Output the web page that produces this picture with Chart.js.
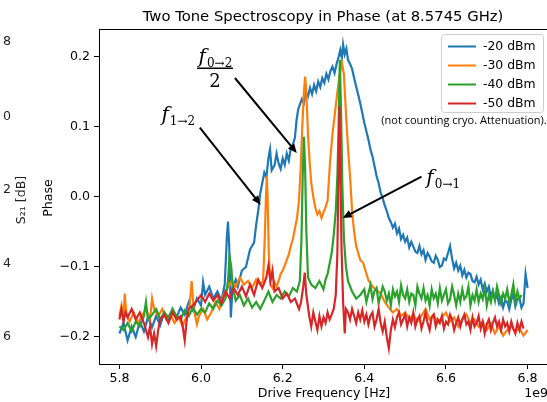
<!DOCTYPE html>
<html>
<head>
<meta charset="utf-8">
<script src="https://cdn.jsdelivr.net/npm/chart.js@4.4.0/dist/chart.umd.min.js"></script>
<style>
  body { margin: 0; background: #fff; }
  #wrap { width: 547px; height: 402px; }
</style>
</head>
<body>
<div id="wrap"><canvas id="chart" width="547" height="402"></canvas></div>
<script>
// tick labels
const xTicks = [5.8, 6.0, 6.2, 6.4, 6.6, 6.8];
const yTicks = [-0.2, -0.1, 0.0, 0.1, 0.2];
const seriesNames = ["-20 dBm", "-30 dBm", "-40 dBm", "-50 dBm"];

// -20 dBm (GHz, phase)
const freqBlue = [5.80, 5.81, 5.82, 5.83, 5.84, 5.85, 5.86, 5.87, 5.88, 5.89, 5.90, 5.91, 5.92, 5.93, 5.94, 5.95, 5.96, 5.97, 5.98, 5.99, 6.00, 6.005, 6.01, 6.02, 6.03, 6.04, 6.05, 6.058, 6.063, 6.066, 6.069, 6.073, 6.077, 6.085, 6.09, 6.10, 6.11, 6.12, 6.13, 6.135, 6.14, 6.145, 6.15, 6.155, 6.16, 6.165, 6.169, 6.173, 6.18, 6.185, 6.19, 6.195, 6.20, 6.205, 6.21, 6.215, 6.22, 6.225, 6.23, 6.234, 6.238, 6.242, 6.247, 6.252, 6.257, 6.262, 6.267, 6.272, 6.277, 6.282, 6.287, 6.292, 6.297, 6.302, 6.307, 6.312, 6.317, 6.322, 6.327, 6.332, 6.337, 6.341, 6.345, 6.348, 6.352, 6.356, 6.36, 6.365, 6.37, 6.375, 6.38, 6.385, 6.39, 6.395, 6.40, 6.405, 6.41, 6.415, 6.42, 6.425, 6.43, 6.435, 6.44, 6.445, 6.45, 6.455, 6.46, 6.465, 6.47, 6.475, 6.48, 6.485, 6.49, 6.495, 6.50, 6.505, 6.51, 6.515, 6.52, 6.525, 6.53, 6.535, 6.54, 6.545, 6.55, 6.555, 6.56, 6.565, 6.57, 6.575, 6.58, 6.585, 6.59, 6.595, 6.60, 6.605, 6.61, 6.615, 6.62, 6.625, 6.63, 6.635, 6.64, 6.645, 6.65, 6.655, 6.66, 6.665, 6.67, 6.675, 6.68, 6.685, 6.69, 6.695, 6.70, 6.705, 6.71, 6.715, 6.72, 6.725, 6.73, 6.735, 6.74, 6.745, 6.75, 6.755, 6.76, 6.765, 6.77, 6.775, 6.78, 6.785, 6.79, 6.795, 6.80];
const phaseBlue = [-0.195, -0.18, -0.205, -0.185, -0.2, -0.178, -0.192, -0.172, -0.186, -0.17, -0.183, -0.165, -0.178, -0.16, -0.172, -0.158, -0.168, -0.15, -0.162, -0.145, -0.155, -0.122, -0.14, -0.128, -0.145, -0.135, -0.148, -0.125, -0.06, -0.035, -0.07, -0.172, -0.13, -0.118, -0.128, -0.105, -0.1, -0.075, -0.065, -0.04, -0.02, 0.005, 0.02, 0.035, 0.028, 0.055, 0.068, 0.038, 0.045, 0.062, 0.048, 0.04, 0.055, 0.046, 0.062, 0.052, 0.07, 0.075, 0.085, 0.11, 0.125, 0.132, 0.14, 0.134, 0.15, 0.144, 0.156, 0.147, 0.16, 0.151, 0.165, 0.157, 0.17, 0.163, 0.176, 0.168, 0.18, 0.186, 0.177, 0.19, 0.2, 0.21, 0.198, 0.218, 0.204, 0.212, 0.196, 0.19, 0.183, 0.17, 0.158, 0.146, 0.134, 0.12, 0.106, 0.094, 0.082, 0.068, 0.058, 0.044, 0.03, 0.02, 0.006, -0.002, -0.012, -0.02, -0.03, -0.036, -0.044, -0.038, -0.052, -0.045, -0.06, -0.054, -0.064, -0.058, -0.072, -0.064, -0.071, -0.078, -0.08, -0.07, -0.082, -0.076, -0.09, -0.08, -0.085, -0.092, -0.094, -0.084, -0.09, -0.1, -0.098, -0.088, -0.09, -0.08, -0.07, -0.088, -0.102, -0.094, -0.105, -0.098, -0.112, -0.104, -0.115, -0.108, -0.11, -0.12, -0.122, -0.114, -0.125, -0.118, -0.132, -0.124, -0.135, -0.128, -0.142, -0.134, -0.146, -0.14, -0.152, -0.144, -0.158, -0.148, -0.15, -0.16, -0.147, -0.138, -0.156, -0.146, -0.145, -0.158, -0.152, -0.11, -0.13];

// -30 dBm
const freqOrange = [5.80, 5.805, 5.81, 5.813, 5.817, 5.825, 5.835, 5.845, 5.855, 5.865, 5.875, 5.88, 5.885, 5.895, 5.905, 5.915, 5.925, 5.935, 5.945, 5.955, 5.965, 5.972, 5.977, 5.982, 5.99, 5.995, 6.005, 6.015, 6.025, 6.035, 6.045, 6.055, 6.065, 6.075, 6.085, 6.095, 6.105, 6.115, 6.125, 6.135, 6.145, 6.152, 6.156, 6.159, 6.161, 6.163, 6.166, 6.17, 6.175, 6.18, 6.185, 6.19, 6.195, 6.20, 6.205, 6.21, 6.215, 6.22, 6.225, 6.23, 6.235, 6.24, 6.244, 6.248, 6.252, 6.255, 6.258, 6.262, 6.266, 6.27, 6.275, 6.28, 6.285, 6.29, 6.295, 6.30, 6.305, 6.31, 6.316, 6.322, 6.328, 6.334, 6.34, 6.345, 6.35, 6.355, 6.36, 6.365, 6.37, 6.375, 6.38, 6.39, 6.397, 6.41, 6.42, 6.43, 6.44, 6.45, 6.46, 6.47, 6.48, 6.49, 6.50, 6.51, 6.52, 6.53, 6.54, 6.55, 6.56, 6.57, 6.58, 6.59, 6.60, 6.61, 6.62, 6.63, 6.64, 6.65, 6.66, 6.67, 6.68, 6.69, 6.70, 6.71, 6.72, 6.73, 6.74, 6.75, 6.76, 6.77, 6.78, 6.79, 6.80];
const phaseOrange = [-0.17, -0.155, -0.175, -0.138, -0.165, -0.178, -0.165, -0.18, -0.17, -0.16, -0.175, -0.145, -0.16, -0.17, -0.16, -0.175, -0.168, -0.18, -0.172, -0.185, -0.17, -0.155, -0.12, -0.16, -0.182, -0.17, -0.16, -0.175, -0.165, -0.15, -0.16, -0.14, -0.13, -0.12, -0.128, -0.115, -0.125, -0.12, -0.13, -0.118, -0.125, -0.12, -0.06, 0.0, 0.03, 0.0, -0.08, -0.125, -0.13, -0.122, -0.128, -0.12, -0.11, -0.105, -0.098, -0.09, -0.082, -0.07, -0.06, -0.045, -0.03, -0.005, 0.04, 0.1, 0.15, 0.172, 0.15, 0.09, 0.05, 0.02, 0.0, -0.015, -0.025, -0.02, -0.03, -0.022, -0.015, -0.005, 0.05, 0.09, 0.12, 0.15, 0.177, 0.192, 0.175, 0.12, 0.07, 0.03, -0.02, -0.05, -0.07, -0.09, -0.094, -0.119, -0.128, -0.133, -0.138, -0.15, -0.158, -0.165, -0.16, -0.17, -0.165, -0.175, -0.168, -0.178, -0.17, -0.16, -0.175, -0.168, -0.18, -0.172, -0.165, -0.178, -0.172, -0.185, -0.175, -0.168, -0.18, -0.175, -0.185, -0.178, -0.19, -0.18, -0.195, -0.185, -0.198, -0.19, -0.185, -0.192, -0.188, -0.198, -0.19];

// -40 dBm
const freqGreen = [5.80, 5.81, 5.82, 5.83, 5.84, 5.85, 5.86, 5.865, 5.87, 5.88, 5.89, 5.90, 5.91, 5.92, 5.93, 5.94, 5.95, 5.96, 5.97, 5.98, 5.99, 6.00, 6.01, 6.02, 6.03, 6.04, 6.05, 6.06, 6.066, 6.07, 6.074, 6.078, 6.085, 6.095, 6.105, 6.115, 6.125, 6.135, 6.145, 6.155, 6.165, 6.175, 6.185, 6.195, 6.205, 6.215, 6.225, 6.235, 6.242, 6.246, 6.249, 6.252, 6.255, 6.258, 6.262, 6.27, 6.28, 6.29, 6.30, 6.305, 6.31, 6.315, 6.32, 6.325, 6.33, 6.334, 6.337, 6.34, 6.343, 6.346, 6.35, 6.355, 6.36, 6.37, 6.38, 6.39, 6.40, 6.405, 6.41, 6.415, 6.42, 6.425, 6.43, 6.435, 6.44, 6.445, 6.45, 6.455, 6.46, 6.465, 6.47, 6.475, 6.48, 6.485, 6.49, 6.495, 6.50, 6.505, 6.51, 6.515, 6.52, 6.525, 6.53, 6.535, 6.54, 6.545, 6.55, 6.555, 6.56, 6.565, 6.57, 6.575, 6.58, 6.585, 6.59, 6.595, 6.60, 6.605, 6.61, 6.615, 6.62, 6.625, 6.63, 6.635, 6.64, 6.645, 6.65, 6.655, 6.66, 6.665, 6.67, 6.675, 6.68, 6.685, 6.69, 6.695, 6.70, 6.705, 6.71, 6.715, 6.72, 6.725, 6.73, 6.735, 6.74, 6.745, 6.75, 6.755, 6.76, 6.765, 6.77, 6.775, 6.78, 6.785, 6.79, 6.795, 6.80];
const phaseGreen = [-0.185, -0.19, -0.18, -0.192, -0.178, -0.185, -0.17, -0.15, -0.175, -0.168, -0.16, -0.175, -0.165, -0.172, -0.16, -0.17, -0.175, -0.162, -0.17, -0.158, -0.168, -0.16, -0.165, -0.152, -0.16, -0.148, -0.155, -0.145, -0.12, -0.085, -0.1, -0.13, -0.148, -0.14, -0.155, -0.145, -0.158, -0.15, -0.16, -0.148, -0.135, -0.15, -0.14, -0.145, -0.135, -0.142, -0.13, -0.135, -0.12, -0.06, 0.03, 0.086, 0.04, -0.05, -0.115, -0.125, -0.13, -0.12, -0.132, -0.118, -0.11, -0.095, -0.08, -0.055, -0.02, 0.03, 0.1, 0.196, 0.12, 0.02, -0.06, -0.1, -0.12, -0.135, -0.145, -0.14, -0.132, -0.15, -0.138, -0.126, -0.146, -0.134, -0.13, -0.152, -0.14, -0.128, -0.135, -0.148, -0.138, -0.155, -0.132, -0.142, -0.135, -0.15, -0.126, -0.14, -0.145, -0.132, -0.15, -0.138, -0.14, -0.155, -0.128, -0.138, -0.145, -0.13, -0.148, -0.14, -0.155, -0.132, -0.145, -0.138, -0.152, -0.13, -0.148, -0.14, -0.132, -0.152, -0.146, -0.128, -0.14, -0.155, -0.138, -0.15, -0.132, -0.146, -0.142, -0.128, -0.155, -0.14, -0.148, -0.132, -0.15, -0.138, -0.146, -0.13, -0.155, -0.14, -0.15, -0.135, -0.148, -0.128, -0.14, -0.152, -0.138, -0.145, -0.132, -0.15, -0.14, -0.125, -0.15, -0.135, -0.145, -0.14];

// -50 dBm
const freqRed = [5.80, 5.805, 5.81, 5.815, 5.82, 5.83, 5.84, 5.85, 5.86, 5.865, 5.87, 5.875, 5.88, 5.885, 5.89, 5.895, 5.90, 5.91, 5.92, 5.93, 5.94, 5.95, 5.955, 5.96, 5.965, 5.97, 5.98, 5.99, 6.00, 6.01, 6.02, 6.03, 6.04, 6.05, 6.06, 6.07, 6.08, 6.09, 6.10, 6.11, 6.12, 6.13, 6.14, 6.15, 6.16, 6.165, 6.17, 6.175, 6.18, 6.19, 6.20, 6.21, 6.22, 6.23, 6.24, 6.245, 6.25, 6.254, 6.258, 6.265, 6.27, 6.275, 6.28, 6.285, 6.29, 6.295, 6.30, 6.305, 6.31, 6.315, 6.32, 6.325, 6.33, 6.334, 6.337, 6.339, 6.341, 6.344, 6.348, 6.352, 6.355, 6.36, 6.365, 6.37, 6.375, 6.38, 6.385, 6.39, 6.395, 6.40, 6.405, 6.41, 6.415, 6.42, 6.425, 6.43, 6.435, 6.44, 6.445, 6.45, 6.455, 6.46, 6.465, 6.47, 6.475, 6.48, 6.485, 6.49, 6.495, 6.50, 6.505, 6.51, 6.515, 6.52, 6.525, 6.53, 6.535, 6.54, 6.545, 6.55, 6.555, 6.56, 6.565, 6.57, 6.575, 6.58, 6.585, 6.59, 6.595, 6.60, 6.605, 6.61, 6.615, 6.62, 6.625, 6.63, 6.635, 6.64, 6.645, 6.65, 6.655, 6.66, 6.665, 6.67, 6.675, 6.68, 6.685, 6.69, 6.695, 6.70, 6.705, 6.71, 6.715, 6.72, 6.725, 6.73, 6.735, 6.74, 6.745, 6.75, 6.755, 6.76, 6.765, 6.77, 6.775, 6.78, 6.785, 6.79, 6.795, 6.80];
const phaseRed = [-0.175, -0.16, -0.178, -0.165, -0.172, -0.16, -0.175, -0.165, -0.18, -0.19, -0.2, -0.185, -0.21, -0.195, -0.213, -0.19, -0.175, -0.168, -0.18, -0.165, -0.175, -0.17, -0.185, -0.205, -0.175, -0.16, -0.155, -0.148, -0.14, -0.15, -0.138, -0.148, -0.14, -0.152, -0.135, -0.145, -0.13, -0.14, -0.128, -0.142, -0.125, -0.14, -0.118, -0.13, -0.115, -0.098, -0.12, -0.105, -0.135, -0.13, -0.145, -0.138, -0.15, -0.145, -0.16, -0.15, -0.13, -0.108, -0.14, -0.17, -0.185, -0.165, -0.178, -0.19, -0.17, -0.185, -0.172, -0.18, -0.165, -0.175, -0.168, -0.16, -0.14, -0.08, 0.05, 0.13, 0.06, -0.07, -0.15, -0.195, -0.16, -0.165, -0.175, -0.16, -0.17, -0.18, -0.165, -0.175, -0.162, -0.178, -0.168, -0.182, -0.17, -0.165, -0.185, -0.175, -0.16, -0.18, -0.192, -0.178, -0.2, -0.216, -0.19, -0.175, -0.186, -0.172, -0.165, -0.182, -0.175, -0.168, -0.185, -0.172, -0.18, -0.165, -0.185, -0.175, -0.17, -0.188, -0.178, -0.165, -0.18, -0.19, -0.172, -0.168, -0.185, -0.175, -0.18, -0.17, -0.188, -0.178, -0.182, -0.168, -0.175, -0.19, -0.18, -0.172, -0.185, -0.175, -0.168, -0.182, -0.178, -0.19, -0.172, -0.185, -0.18, -0.17, -0.188, -0.178, -0.195, -0.182, -0.175, -0.19, -0.18, -0.172, -0.185, -0.178, -0.19, -0.175, -0.185, -0.18, -0.192, -0.178, -0.188, -0.195, -0.18, -0.19, -0.178, -0.188];

// annotation arrows: tail and tip in data units
const arrowTail = [[6.083, 0.170], [5.997, 0.099], [6.540, 0.029]];
const arrowTip = [[6.2345, 0.063], [6.146, -0.011], [6.347, -0.030]];

const colors = ["#1f77b4", "#ff7f0e", "#2ca02c", "#d62728"];
const FONT = '"DejaVu Sans", sans-serif';

function pts(fs, ps) {
  return fs.map((f, i) => ({ x: f, y: ps[i] }));
}

function fmtTick(v, digits) {
  const s = Math.abs(v).toFixed(digits);
  return v < -1e-9 ? "\u2212" + s : s;
}

function drawArrow(ctx, x1, y1, x2, y2) {
  const a = Math.atan2(y2 - y1, x2 - x1);
  const hl = 9, hw = 4;
  ctx.strokeStyle = "#000";
  ctx.fillStyle = "#000";
  ctx.lineWidth = 2;
  ctx.beginPath();
  ctx.moveTo(x1, y1);
  ctx.lineTo(x2 - Math.cos(a) * hl * 0.8, y2 - Math.sin(a) * hl * 0.8);
  ctx.stroke();
  ctx.beginPath();
  ctx.moveTo(x2, y2);
  ctx.lineTo(x2 - Math.cos(a) * hl + Math.sin(a) * hw, y2 - Math.sin(a) * hl - Math.cos(a) * hw);
  ctx.lineTo(x2 - Math.cos(a) * hl - Math.sin(a) * hw, y2 - Math.sin(a) * hl + Math.cos(a) * hw);
  ctx.closePath();
  ctx.fill();
}

// italic f with a small upright subscript, centred on cx
function drawF(ctx, cx, baseline, sub) {
  ctx.font = 'italic 20px "DejaVu Serif", serif';
  const wf = ctx.measureText("f").width;
  ctx.font = '12px "DejaVu Serif", serif';
  const ws = ctx.measureText(sub).width;
  const x0 = cx - (wf + ws) / 2;
  ctx.fillStyle = "#000";
  ctx.textAlign = "left";
  ctx.textBaseline = "alphabetic";
  ctx.font = 'italic 20px "DejaVu Serif", serif';
  ctx.fillText("f", x0, baseline);
  ctx.font = '12px "DejaVu Serif", serif';
  ctx.fillText(sub, x0 + wf + 1, baseline + 4);
}

const decor = {
  id: "decor",
  afterDraw(chart) {
    const ctx = chart.ctx;
    const a = chart.chartArea;
    const xs = chart.scales.x, ys = chart.scales.y;
    ctx.save();

    // top spine
    ctx.strokeStyle = "#000";
    ctx.lineWidth = 1;
    ctx.beginPath();
    ctx.moveTo(a.left, a.top + 0.5);
    ctx.lineTo(a.right, a.top + 0.5);
    ctx.stroke();

    // title and axis labels
    ctx.fillStyle = "#000";
    ctx.textAlign = "center";
    ctx.textBaseline = "middle";
    ctx.font = "14.8px " + FONT;
    ctx.fillText("Two Tone Spectroscopy in Phase (at 8.5745 GHz)", 323, 17);
    ctx.font = "12.6px " + FONT;
    ctx.fillText("Drive Frequency [Hz]", 324, 394);
    ctx.textAlign = "right";
    ctx.fillText("1e9", 548, 394);
    ctx.save();
    ctx.translate(49, 198);
    ctx.rotate(-Math.PI / 2);
    ctx.textAlign = "center";
    ctx.fillText("Phase", 0, 0);
    ctx.restore();

    // leftover of the neighbouring plot
    ctx.fillStyle = "#222";
    ctx.font = "12.6px " + FONT;
    ctx.textAlign = "right";
    [["8", 42], ["0", 117], ["2", 190], ["4", 264], ["6", 337]].forEach(([t, y]) => ctx.fillText(t, 11, y));
    ctx.save();
    ctx.translate(22, 200);
    ctx.rotate(-Math.PI / 2);
    ctx.textAlign = "center";
    ctx.fillText("S\u2082\u2081 [dB]", 0, 0);
    ctx.restore();

    // legend
    const lx = 441, ly = 34, lw = 102, lh = 78;
    ctx.fillStyle = "rgba(255,255,255,0.85)";
    ctx.strokeStyle = "#cccccc";
    ctx.lineWidth = 1;
    ctx.beginPath();
    ctx.roundRect(lx + 0.5, ly + 0.5, lw, lh, 3);
    ctx.fill();
    ctx.stroke();
    ctx.font = "12.4px " + FONT;
    ctx.textAlign = "left";
    ctx.textBaseline = "middle";
    seriesNames.forEach((name, i) => {
      const y = 46.5 + i * 19;
      ctx.strokeStyle = colors[i];
      ctx.lineWidth = 2;
      ctx.beginPath();
      ctx.moveTo(448, y);
      ctx.lineTo(476, y);
      ctx.stroke();
      ctx.fillStyle = "#000";
      ctx.fillText(name, 483, y);
    });
    ctx.font = '11px "Open Sans", sans-serif';
    ctx.textAlign = "center";
    ctx.fillText("(not counting cryo. Attenuation).", 464, 121);

    // arrows
    arrowTail.forEach((t, i) => {
      const p = arrowTip[i];
      drawArrow(ctx, xs.getPixelForValue(t[0]), ys.getPixelForValue(t[1]),
        xs.getPixelForValue(p[0]), ys.getPixelForValue(p[1]));
    });

    // labels
    const fx = xs.getPixelForValue(6.034), fy = ys.getPixelForValue(0.184);
    drawF(ctx, fx, fy - 5, "0\u21922");
    ctx.strokeStyle = "#000";
    ctx.lineWidth = 1.5;
    ctx.beginPath();
    ctx.moveTo(fx - 18, fy);
    ctx.lineTo(fx + 18, fy);
    ctx.stroke();
    ctx.font = '18px "DejaVu Serif", serif';
    ctx.textAlign = "center";
    ctx.textBaseline = "alphabetic";
    ctx.fillText("2", fx, fy + 19);
    drawF(ctx, xs.getPixelForValue(5.943), ys.getPixelForValue(0.117) + 6, "1\u21922");
    drawF(ctx, xs.getPixelForValue(6.592), ys.getPixelForValue(0.027) + 6, "0\u21921");

    ctx.restore();
  }
};

const datasets = [
  [freqBlue, phaseBlue],
  [freqOrange, phaseOrange],
  [freqGreen, phaseGreen],
  [freqRed, phaseRed]
].map(([f, p], i) => ({
  label: seriesNames[i],
  data: pts(f, p),
  borderColor: colors[i],
  backgroundColor: colors[i],
  borderWidth: 2.2,
  pointRadius: 0,
  tension: 0,
  order: 4 - i
}));

new Chart(document.getElementById("chart"), {
  type: "line",
  data: { datasets },
  options: {
    responsive: false,
    animation: false,
    devicePixelRatio: 1,
    layout: { padding: { top: 29, left: 0, right: 0, bottom: 0 } },
    plugins: { legend: { display: false }, tooltip: { enabled: false } },
    scales: {
      x: {
        type: "linear",
        min: 5.75,
        max: 6.8475,
        afterFit: (s) => { s.height = 38; },
        afterBuildTicks: (s) => { s.ticks = xTicks.map((v) => ({ value: v })); },
        ticks: {
          color: "#000",
          font: { family: "DejaVu Sans", size: 12.6 },
          padding: 2,
          maxRotation: 0,
          callback: (v) => fmtTick(v, 1)
        },
        grid: { drawOnChartArea: false, color: "#000", tickLength: 5 },
        border: { color: "#000", width: 1 }
      },
      y: {
        min: -0.2386,
        max: 0.24,
        afterFit: (s) => { s.width = 99; },
        afterBuildTicks: (s) => { s.ticks = yTicks.map((v) => ({ value: v })); },
        ticks: {
          color: "#000",
          font: { family: "DejaVu Sans", size: 12.6 },
          padding: 4,
          callback: (v) => fmtTick(v, 1)
        },
        grid: { drawOnChartArea: false, color: "#000", tickLength: 5 },
        border: { color: "#000", width: 1 }
      }
    }
  },
  plugins: [decor]
});
</script>
</body>
</html>
